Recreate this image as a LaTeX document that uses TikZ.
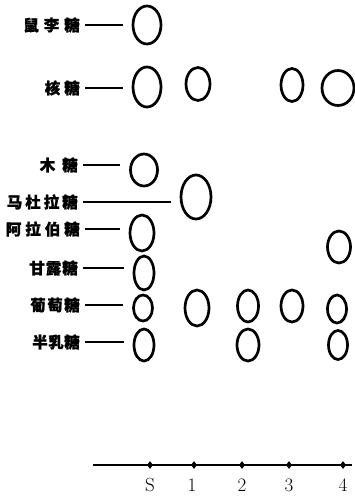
\documentclass[tikz,border=0pt]{standalone}
\usepackage{fontspec}
\newfontfamily\cjk{Noto Sans CJK SC}[BoldFeatures={FakeBold=1.2}]
\usetikzlibrary{shapes.geometric}
\tikzset{
  sugar/.style={anchor=east, inner sep=0pt, font=\cjk\bfseries\fontsize{15.5}{16}\selectfont},
  spot/.style={draw, ellipse, line width=2.7pt, inner sep=0pt, minimum width=#1},
  lead/.style={line width=2.8pt, shorten <=5pt, shorten >=9pt},
  tick/.style={diamond, fill, inner sep=0pt, minimum width=6pt, minimum height=8pt},
  lane/.style={font=\fontsize{19}{19}\selectfont, inner sep=0pt}
}
\newcommand{\gap}[1]{\hspace{#1pt}}
\begin{document}
\begin{tikzpicture}[x=1pt,y=-1pt]
\useasboundingbox (0,0) rectangle (355,497);
% labels
\node[sugar] (rha) at (80,25) {鼠\gap{5}李\gap{5}糖};
\node[sugar] (rib) at (80,88) {核\gap{4}糖};
\node[sugar] (xyl) at (78,165) {木\gap{7}糖};
\node[sugar] (mal) at (78,202) {马\gap{3}杜\gap{3}拉\gap{3}糖};
\node[sugar] (ara) at (80,229) {阿\gap{4}拉\gap{4}伯\gap{4}糖};
\node[sugar] (man) at (78,268) {甘\gap{1}露\gap{1}糖};
\node[sugar] (glc) at (80,305) {葡\gap{1.5}萄\gap{1.5}糖};
\node[sugar] (gal) at (80,342) {半\gap{0.5}乳\gap{0.5}糖};
% spots
\node[spot=28pt, minimum height=38pt] (s-rha) at (147,25) {};
\node[spot=28pt, minimum height=40pt] (s-rib) at (147,87) {};
\node[spot=24pt, minimum height=33pt] (r1) at (198,84) {};
\node[spot=22pt, minimum height=33pt] (r3) at (292,85) {};
\node[spot=32pt, minimum height=35pt] (r4) at (338,88) {};
\node[spot=27pt, minimum height=32pt] (s-xyl) at (144,170) {};
\node[spot=30pt, minimum height=44pt] (m1) at (196,197) {};
\node[spot=24pt, minimum height=36pt] (s-ara) at (142,233) {};
\node[spot=23pt, minimum height=32pt] (a4) at (339,247) {};
\node[spot=20pt, minimum height=34pt] (s-man) at (144,273) {};
\node[spot=19pt, minimum height=26pt] (s-glc) at (143,308) {};
\node[spot=24pt, minimum height=36pt] (g1) at (197,308) {};
\node[spot=21pt, minimum height=32pt] (g2) at (248,306) {};
\node[spot=22pt, minimum height=32pt] (g3) at (292,306) {};
\node[spot=19pt, minimum height=28pt] (g4) at (337,309) {};
\node[spot=20pt, minimum height=32pt] (s-gal) at (144,345) {};
\node[spot=22pt, minimum height=32pt] (l2) at (248,345) {};
\node[spot=19pt, minimum height=29pt] (l4) at (338,345) {};
% leads
\draw[lead] (rha.east) -- (s-rha.west |- rha.east);
\draw[lead] (rib.east) -- (s-rib.west |- rib.east);
\draw[lead] (xyl.east) -- (s-xyl.west |- xyl.east);
\draw[lead] (mal.east) -- (m1.west |- mal.east);
\draw[lead] (ara.east) -- (s-ara.west |- ara.east);
\draw[lead] (man.east) -- (s-man.west |- man.east);
\draw[lead] (glc.east) -- (s-glc.west |- glc.east);
\draw[lead] (gal.east) -- (s-gal.west |- gal.east);
% axis
\coordinate (axL) at (93,465);
\coordinate (axR) at (352,465);
\draw[line width=2.2pt] (axL) -- (axR);
\node[tick] (tS) at (150,465) {};
\node[tick] (t1) at (194,465) {};
\node[tick] (t2) at (242,465) {};
\node[tick] (t3) at (289,465) {};
\node[tick] (t4) at (343,465) {};
\node[lane] (lS) at (150,485) {S};
\node[lane] (l1) at (192,485) {1};
\node[lane] (l2t) at (242,485) {2};
\node[lane] (l3) at (289,485) {3};
\node[lane] (l4t) at (343,485) {4};
\end{tikzpicture}
\end{document}
